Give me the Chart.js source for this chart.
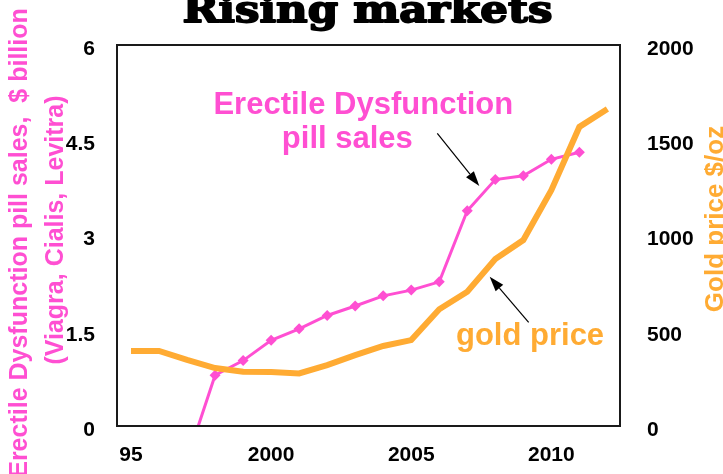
<!DOCTYPE html>
<html>
<head>
<meta charset="utf-8">
<title>Rising markets</title>
<script src="https://cdn.jsdelivr.net/npm/chart.js@4.4.1/dist/chart.umd.min.js"></script>
<style>
  html, body { margin: 0; padding: 0; background: #fff; }
  #wrap { width: 723px; height: 474px; }
</style>
</head>
<body>
<div id="wrap"><canvas id="chart" width="723" height="474"></canvas></div>
<script>
const PINK = '#ff4fd2';
const GOLD = '#ffab33';
const SANS = '"Liberation Sans", Arial, sans-serif';

// ED pill sales, $ billion (line starts from zero at launch)
const pillYears = [1997.4, 1998, 1999, 2000, 2001, 2002, 2003, 2004, 2005, 2006, 2007, 2008, 2009, 2010, 2011];
const pillSales = [0, 0.80, 1.03, 1.35, 1.53, 1.74, 1.89, 2.05, 2.14, 2.27, 3.39, 3.88, 3.94, 4.20, 4.31];

// gold price, $/oz
const goldYears = [1995, 1996, 1997, 1998, 1999, 2000, 2001, 2002, 2003, 2004, 2005, 2006, 2007, 2008, 2009, 2010, 2011, 2012];
const goldPrice = [394, 394, 347, 304, 285, 283, 276, 320, 372, 420, 451, 613, 705, 876, 976, 1238, 1570, 1664];

// axis ticks
const yearTicks = [1995, 2000, 2005, 2010];
const yearLabels = ['95', '2000', '2005', '2010'];
const salesTicks = [0, 1.5, 3, 4.5, 6];
const goldTicks = [0, 500, 1000, 1500, 2000];

// callouts, anchored in data units
const notes = {
  pillText: [
    { text: 'Erectile Dysfunction', x: 2003.29, y: 4.92 },
    { text: 'pill sales', x: 2002.72, y: 4.38 }
  ],
  pillArrow: { from: [2005.93, 4.61], to: [2007.43, 3.78] },
  goldText: { text: 'gold price', x: 2009.24, y: 425 },
  goldArrow: { from: [2009.19, 544], to: [2007.80, 784] }
};

const tickFont = { family: SANS, size: 21, weight: 'bold' };

function drawArrow(ctx, x1, y1, x2, y2) {
  const ang = Math.atan2(y2 - y1, x2 - x1);
  const head = 15, half = 5;
  ctx.save();
  ctx.strokeStyle = '#000';
  ctx.fillStyle = '#000';
  ctx.lineWidth = 1.2;
  ctx.beginPath();
  ctx.moveTo(x1, y1);
  ctx.lineTo(x2 - Math.cos(ang) * head, y2 - Math.sin(ang) * head);
  ctx.stroke();
  ctx.translate(x2, y2);
  ctx.rotate(ang);
  ctx.beginPath();
  ctx.moveTo(0, 0);
  ctx.lineTo(-head, -half);
  ctx.lineTo(-head, half);
  ctx.closePath();
  ctx.fill();
  ctx.restore();
}

function rotatedText(ctx, text, x, y, font, color) {
  ctx.save();
  ctx.translate(x, y);
  ctx.rotate(-Math.PI / 2);
  ctx.font = font;
  ctx.fillStyle = color;
  ctx.textAlign = 'center';
  ctx.textBaseline = 'alphabetic';
  ctx.fillText(text, 0, 0);
  ctx.restore();
}

// box around the plot area
const framePlugin = {
  id: 'frame',
  afterDatasetsDraw(chart) {
    const { ctx, chartArea: a } = chart;
    ctx.save();
    ctx.strokeStyle = '#1a1a1a';
    ctx.lineWidth = 2;
    ctx.strokeRect(a.left, a.top, a.right - a.left, a.bottom - a.top);
    ctx.restore();
  }
};

// title, axis titles and callouts
const labelPlugin = {
  id: 'labels',
  afterDraw(chart) {
    const { ctx, chartArea: a, scales } = chart;
    const sx = scales.x, ys = scales.ySales, yg = scales.yGold;

    // heavy title, stretched to its set width
    ctx.save();
    ctx.font = 'bold 37px "DejaVu Serif", serif';
    const title = 'Rising markets';
    const w = ctx.measureText(title).width;
    ctx.translate((a.left + a.right) / 2 - 1, 22);
    ctx.scale(370 / w, 1);
    ctx.fillStyle = '#000';
    ctx.strokeStyle = '#000';
    ctx.lineWidth = 1.8;
    ctx.lineJoin = 'round';
    ctx.textAlign = 'center';
    ctx.textBaseline = 'alphabetic';
    ctx.fillText(title, 0, 0);
    ctx.strokeText(title, 0, 0);
    ctx.restore();

    const axisFont = 'bold 25px ' + SANS;
    rotatedText(ctx, 'Erectile Dysfunction pill sales,  $ billion', 27, 243, axisFont, PINK);
    rotatedText(ctx, '(Viagra, Cialis, Levitra)', 63, 230, axisFont, PINK);
    rotatedText(ctx, 'Gold price $/oz', 723, 219, 'bold 26px ' + SANS, GOLD);

    ctx.save();
    ctx.font = 'bold 31px ' + SANS;
    ctx.textAlign = 'center';
    ctx.textBaseline = 'alphabetic';
    ctx.fillStyle = PINK;
    notes.pillText.forEach(n => ctx.fillText(n.text, sx.getPixelForValue(n.x), ys.getPixelForValue(n.y)));
    ctx.fillStyle = GOLD;
    const g = notes.goldText;
    ctx.fillText(g.text, sx.getPixelForValue(g.x), yg.getPixelForValue(g.y));
    ctx.restore();

    const pa = notes.pillArrow, ga = notes.goldArrow;
    drawArrow(ctx, sx.getPixelForValue(pa.from[0]), ys.getPixelForValue(pa.from[1]),
                   sx.getPixelForValue(pa.to[0]), ys.getPixelForValue(pa.to[1]));
    drawArrow(ctx, sx.getPixelForValue(ga.from[0]), yg.getPixelForValue(ga.from[1]),
                   sx.getPixelForValue(ga.to[0]), yg.getPixelForValue(ga.to[1]));
  }
};

const ctx = document.getElementById('chart').getContext('2d');
new Chart(ctx, {
  type: 'line',
  data: {
    datasets: [
      {
        label: 'gold price',
        data: goldYears.map((x, i) => ({ x, y: goldPrice[i] })),
        yAxisID: 'yGold',
        borderColor: GOLD,
        borderWidth: 6,
        pointRadius: 0,
        tension: 0,
        order: 0
      },
      {
        label: 'Erectile Dysfunction pill sales',
        data: pillYears.map((x, i) => ({ x, y: pillSales[i] })),
        yAxisID: 'ySales',
        borderColor: PINK,
        backgroundColor: PINK,
        borderWidth: 3,
        pointStyle: 'rectRot',
        pointRadius: pillYears.map((x, i) => (i === 0 ? 0 : 5.5)),
        pointBorderWidth: 0,
        tension: 0,
        order: 1
      }
    ]
  },
  options: {
    responsive: false,
    animation: false,
    layout: { padding: { top: 45, left: 0, right: 0, bottom: 0 } },
    plugins: {
      legend: { display: false },
      tooltip: { enabled: false },
      title: { display: false }
    },
    scales: {
      x: {
        type: 'linear',
        min: 1994.5,
        max: 2012.45,
        grid: { display: false },
        border: { display: false },
        afterBuildTicks: s => { s.ticks = yearTicks.map(v => ({ value: v })); },
        afterFit: s => { s.height = 48; },
        ticks: {
          autoSkip: false,
          maxRotation: 0,
          padding: 9,
          color: '#000',
          font: tickFont,
          callback: v => yearLabels[yearTicks.indexOf(v)]
        }
      },
      ySales: {
        position: 'left',
        min: 0,
        max: 6,
        grid: { display: false },
        border: { display: false },
        afterBuildTicks: s => { s.ticks = salesTicks.map(v => ({ value: v })); },
        afterFit: s => { s.width = 117; },
        ticks: { padding: 14, labelOffset: 4, color: '#000', font: tickFont, callback: v => String(v) }
      },
      yGold: {
        position: 'right',
        min: 0,
        max: 2000,
        grid: { display: false },
        border: { display: false },
        afterBuildTicks: s => { s.ticks = goldTicks.map(v => ({ value: v })); },
        afterFit: s => { s.width = 103; },
        ticks: { padding: 19, labelOffset: 4, color: '#000', font: tickFont, callback: v => String(v) }
      }
    }
  },
  plugins: [framePlugin, labelPlugin]
});
</script>
</body>
</html>
